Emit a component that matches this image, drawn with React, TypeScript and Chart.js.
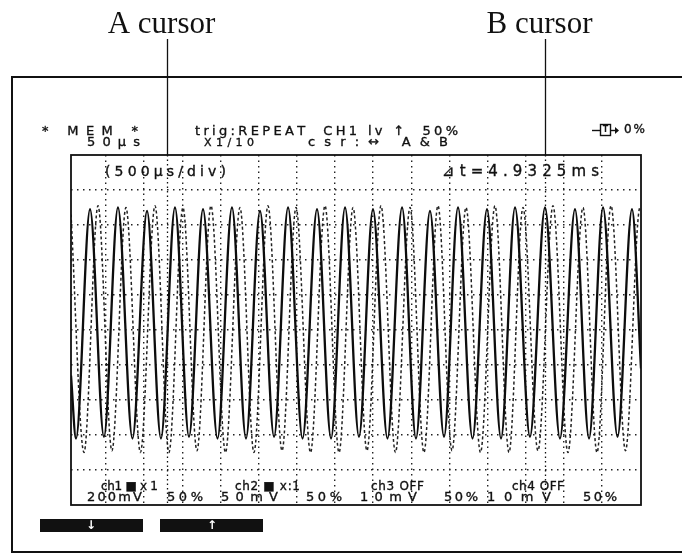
import React, { useEffect, useRef } from "react";
import { Chart, registerables } from "chart.js";

Chart.register(...registerables);

// ---- data (time in ms, amplitude in divisions) ----
const solidTimes = [
  0, 0.044, 0.167, 0.289, 0.412, 0.539, 0.667, 0.789, 0.912, 1.035,
  1.158, 1.285, 1.412, 1.535, 1.658, 1.781, 1.904, 2.031, 2.158, 2.281,
  2.404, 2.526, 2.649, 2.776, 2.904, 3.026, 3.149, 3.272, 3.395, 3.522,
  3.649, 3.772, 3.895, 4.026, 4.158, 4.289, 4.421, 4.544, 4.667, 4.794,
  4.921, 5.0,
];
const solidValues = [
  -1.3, -3.1, 3.45, -3.05, 3.5, -3.1, 3.4, -3.1, 3.5, -3.05,
  3.45, -3.1, 3.5, -3.1, 3.4, -3.05, 3.5, -3.1, 3.45, -3.1,
  3.5, -3.05, 3.45, -3.1, 3.5, -3.1, 3.4, -3.05, 3.5, -3.1,
  3.45, -3.1, 3.5, -3.05, 3.5, -3.1, 3.45, -3.1, 3.5, -3.05,
  3.45, -1.1,
];
const dashedTimes = [
  0, 0.114, 0.237, 0.359, 0.482, 0.609, 0.737, 0.859, 0.982, 1.105,
  1.228, 1.355, 1.482, 1.605, 1.728, 1.851, 1.974, 2.101, 2.228, 2.351,
  2.474, 2.596, 2.719, 2.846, 2.974, 3.096, 3.219, 3.342, 3.465, 3.592,
  3.719, 3.842, 3.965, 4.096, 4.228, 4.359, 4.491, 4.614, 4.737, 4.864,
  4.991, 5.0,
];
const dashedValues = [
  3.3, -3.5, 3.55, -3.45, 3.5, -3.5, 3.55, -3.5, 3.5, -3.45,
  3.55, -3.5, 3.5, -3.5, 3.55, -3.45, 3.5, -3.5, 3.55, -3.5,
  3.5, -3.45, 3.55, -3.5, 3.5, -3.5, 3.55, -3.45, 3.5, -3.5,
  3.55, -3.5, 3.5, -3.45, 3.55, -3.5, 3.5, -3.5, 3.55, -3.45,
  3.5, 3.45,
];
const gridTimes = [
  0.307, 0.642, 0.976, 1.311, 1.646, 1.981, 2.315, 2.65, 2.985, 3.319,
  3.654, 3.989, 4.323, 4.658,
];
const cursorTimes = [0.842, 4.158];
const cursorLabels = ["A cursor", "B cursor"];

// ---- screen texts ----
const SANS = '"DejaVu Sans", "Noto Sans", sans-serif';
type Txt = { t: string; x0: number; x1: number; y: number; s: number };
const screenTexts: Txt[] = [
  { t: "* MEM *", x0: 42, x1: 138, y: 132, s: 13 },
  { t: "50µs", x0: 87, x1: 140, y: 143, s: 13 },
  { t: "trig:REPEAT  CH1 lv ↑  50%", x0: 195, x1: 458, y: 132, s: 13 },
  { t: "X1/10", x0: 204, x1: 254, y: 143, s: 11 },
  { t: "csr:↔ A&B", x0: 308, x1: 448, y: 143, s: 13 },
  { t: "0%", x0: 624, x1: 645, y: 130, s: 12 },
  { t: "(500µs/div)", x0: 105, x1: 226, y: 172, s: 14 },
  { t: "⊿t=4.9325ms", x0: 442, x1: 599, y: 172, s: 15 },
  { t: "ch1 ■ x 1", x0: 101, x1: 158, y: 487, s: 12 },
  { t: "ch2 ■ x:1", x0: 235, x1: 300, y: 487, s: 12 },
  { t: "ch3 OFF", x0: 371, x1: 424, y: 487, s: 12 },
  { t: "ch4 OFF", x0: 512, x1: 564, y: 487, s: 12 },
  { t: "200mV", x0: 87, x1: 142, y: 498, s: 13 },
  { t: "50%", x0: 167, x1: 203, y: 498, s: 13 },
  { t: "50mV", x0: 221, x1: 278, y: 498, s: 13 },
  { t: "50%", x0: 306, x1: 342, y: 498, s: 13 },
  { t: "10mV", x0: 360, x1: 417, y: 498, s: 13 },
  { t: "50%", x0: 444, x1: 478, y: 498, s: 13 },
  { t: "10mV", x0: 487, x1: 551, y: 498, s: 13 },
  { t: "50%", x0: 583, x1: 617, y: 498, s: 13 },
];

function spread(ctx: CanvasRenderingContext2D, text: string, x0: number, x1: number, y: number, font: string) {
  ctx.font = font;
  const chars = Array.from(text);
  const widths = chars.map((c) => ctx.measureText(c).width);
  const total = widths.reduce((a, b) => a + b, 0);
  const gap = chars.length > 1 ? (x1 - x0 - total) / (chars.length - 1) : 0;
  let x = x0;
  ctx.textAlign = "left";
  ctx.textBaseline = "middle";
  ctx.lineWidth = 0.35;
  chars.forEach((c, i) => {
    ctx.fillText(c, x, y);
    ctx.strokeText(c, x, y);
    x += widths[i] + gap;
  });
}

const decor = {
  id: "decor",
  beforeDraw(chart: any) {
    const ctx = chart.ctx as CanvasRenderingContext2D;
    ctx.save();
    ctx.fillStyle = "#ffffff";
    ctx.fillRect(0, 0, chart.width, chart.height);
    ctx.restore();
  },
  afterDraw(chart: any) {
    const ctx = chart.ctx as CanvasRenderingContext2D;
    const { left, right, top, bottom } = chart.chartArea;
    const xs = chart.scales.x;
    ctx.save();
    ctx.fillStyle = "#111";
    ctx.strokeStyle = "#111";

    // outer frame
    ctx.lineWidth = 2;
    ctx.beginPath();
    ctx.moveTo(682, 77);
    ctx.lineTo(12, 77);
    ctx.lineTo(12, 552);
    ctx.lineTo(682, 552);
    ctx.stroke();

    // plot box
    ctx.lineWidth = 1.8;
    ctx.strokeRect(left, top, right - left, bottom - top);

    // cursors
    cursorTimes.forEach((t, i) => {
      const px = Math.round(xs.getPixelForValue(t)) + 0.5;
      ctx.setLineDash([]);
      ctx.lineWidth = 1.3;
      ctx.beginPath();
      ctx.moveTo(px, 39);
      ctx.lineTo(px, top);
      ctx.stroke();
      ctx.setLineDash([1.5, 3]);
      ctx.lineWidth = 1.3;
      ctx.beginPath();
      ctx.moveTo(px, top);
      ctx.lineTo(px, bottom);
      ctx.stroke();
      ctx.setLineDash([]);
      ctx.font = '31px "Liberation Serif", "DejaVu Serif", serif';
      ctx.textAlign = "center";
      ctx.textBaseline = "alphabetic";
      ctx.fillText(cursorLabels[i], px - 6, 33);
    });

    // screen texts
    screenTexts.forEach((tx) => spread(ctx, tx.t, tx.x0, tx.x1, tx.y, `${tx.s}px ${SANS}`));

    // trigger position icon
    ctx.lineWidth = 1.4;
    ctx.beginPath();
    ctx.moveTo(592, 130.5);
    ctx.lineTo(600, 130.5);
    ctx.stroke();
    ctx.strokeRect(600.5, 124.5, 10, 11);
    ctx.font = `bold 8px ${SANS}`;
    ctx.textAlign = "center";
    ctx.textBaseline = "middle";
    ctx.fillText("T", 605.5, 130);
    ctx.beginPath();
    ctx.moveTo(611, 130.5);
    ctx.lineTo(615, 130.5);
    ctx.stroke();
    ctx.beginPath();
    ctx.moveTo(615, 127);
    ctx.lineTo(619, 130.5);
    ctx.lineTo(615, 134);
    ctx.closePath();
    ctx.fill();

    // soft-key buttons
    ctx.fillStyle = "#111";
    ctx.fillRect(40, 519, 103, 13);
    ctx.fillRect(160, 519, 103, 13);
    ctx.fillStyle = "#fff";
    ctx.font = `bold 12px ${SANS}`;
    ctx.textAlign = "center";
    ctx.textBaseline = "middle";
    ctx.fillText("↓", 91, 526);
    ctx.fillText("↑", 212, 526);
    ctx.restore();
  },
};

export default function App() {
  const ref = useRef<HTMLCanvasElement | null>(null);
  useEffect(() => {
    if (!ref.current) return;
    const chart = new Chart(ref.current, {
      type: "line",
      data: {
        datasets: [
          {
            label: "ch1",
            data: solidTimes.map((t, i) => ({ x: t, y: solidValues[i] })),
            borderColor: "#0d0d0d",
            borderWidth: 2.3,
            pointRadius: 0,
            cubicInterpolationMode: "monotone",
            fill: false,
          },
          {
            label: "ch1 dots",
            data: dashedTimes.map((t, i) => ({ x: t, y: dashedValues[i] })),
            borderColor: "#222",
            borderWidth: 1.5,
            borderDash: [3, 2.5],
            pointRadius: 0,
            cubicInterpolationMode: "monotone",
            fill: false,
          },
        ],
      },
      options: {
        animation: false,
        responsive: false,
        maintainAspectRatio: false,
        layout: { padding: { left: 71, right: 41, top: 155, bottom: 49 } },
        plugins: { legend: { display: false }, tooltip: { enabled: false } },
        scales: {
          x: {
            type: "linear",
            min: 0,
            max: 5,
            ticks: { display: false },
            grid: { color: "#222", lineWidth: 1.4, drawTicks: false },
            border: { display: false, dash: [1.5, 4] },
            afterBuildTicks: (s: any) => {
              s.ticks = gridTimes.map((v) => ({ value: v }));
            },
          },
          y: {
            type: "linear",
            min: -5,
            max: 5,
            ticks: { display: false, stepSize: 1 },
            grid: {
              color: (c: any) => (Math.abs(c.tick.value) >= 5 ? "rgba(0,0,0,0)" : "#222"),
              lineWidth: 1.4,
              drawTicks: false,
            },
            border: { display: false, dash: [1.5, 4.5] },
          },
        },
      } as any,
      plugins: [decor],
    });
    return () => chart.destroy();
  }, []);
  return (
    <div style={{ position: "absolute", left: 0, top: 0, width: 682, height: 554, background: "#fff" }}>
      <canvas ref={ref} width={682} height={554} style={{ display: "block" }} />
    </div>
  );
}
